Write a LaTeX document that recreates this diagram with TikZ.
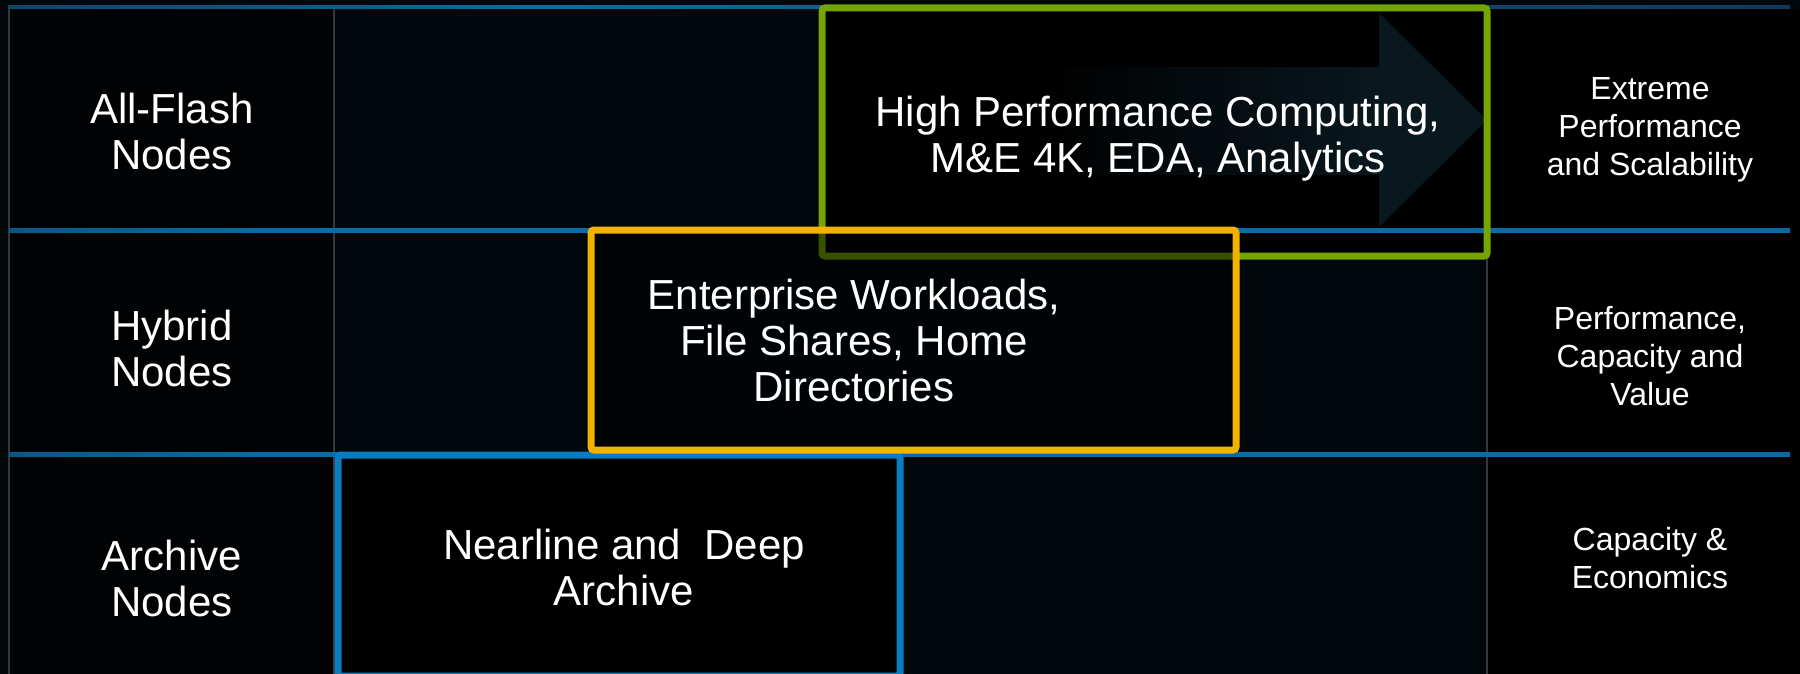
\documentclass[tikz,border=0pt]{standalone}
\usepackage{fontspec}
\setmainfont{Liberation Sans}
\definecolor{bgnavy}{HTML}{02070B}
\definecolor{colblack}{HTML}{010204}
\definecolor{rowblue}{HTML}{0A6BA6}
\definecolor{rowdark}{HTML}{03101A}
\definecolor{rowdim}{HTML}{12304A}
\definecolor{gridgray}{HTML}{33383E}
\definecolor{hpcgreen}{HTML}{74A500}
\definecolor{entyellow}{HTML}{F2B200}
\definecolor{arcblue}{HTML}{0A7DC1}
\definecolor{arrowteal}{HTML}{09171F}
\pgfdeclarehorizontalshading{rowline}{100bp}{color(0bp)=(rowdark); color(32bp)=(rowblue); color(84bp)=(rowblue); color(99bp)=(rowdark); color(100bp)=(rowdark)}
\pgfdeclarehorizontalshading{topline}{100bp}{color(0bp)=(rowdark); color(40bp)=(rowblue); color(82bp)=(rowdim); color(99bp)=(rowdark); color(100bp)=(rowdark)}
\begin{document}
\begin{tikzpicture}[x=0.5pt,y=-0.5pt,
  big/.style={text=white,font=\fontsize{21}{23}\selectfont,align=center,inner sep=0pt},
  small/.style={text=white,font=\fontsize{16}{19}\selectfont,align=center,inner sep=0pt},
  box/.style={line width=3.5pt,rounded corners=1.5pt},
  gridline/.style={draw=gridgray,line width=0.75pt},
  rowrule/.style={shading=rowline},
  toprule/.style={shading=topline}]
\useasboundingbox (0,0) rectangle (1800,674);
% background
\fill[bgnavy] (0,0) rectangle (1800,674);
\fill[colblack] (9,9) rectangle (334,674);
\fill[black] (1487,9) rectangle (1800,674);
% box fills
\fill[black] (822,8) rectangle (1487,256);
\fill[black] (338,455) rectangle (900,676);
% arrow
\shade[left color=black,right color=arrowteal] (1040,68) rectangle (1380,175);
\fill[arrowteal] (1379,68) -- (1379,13) -- (1487,120) -- (1379,227) -- (1379,175) -- cycle;
% grid
\draw[gridline] (9,5) -- (9,674);
\draw[gridline] (334,7) -- (334,674);
\draw[gridline] (1487,256) -- (1487,674);
% row rules
\shade[toprule] (9,5.5) rectangle (1790,9);
\shade[rowrule] (9,228.5) rectangle (1790,232);
\shade[rowrule] (9,452.5) rectangle (1790,456);
% boxes
\draw[box,draw=arcblue] (338,455) rectangle (900,676);
\draw[box,draw=hpcgreen] (822,8) rectangle (1487,256);
\draw[box,draw=entyellow,fill=black,fill opacity=0.5] (591,230) rectangle (1236,450);
% texts
\node[big] (allflash) at (172,131) {All-Flash\\Nodes};
\node[big] (hybrid) at (172,348) {Hybrid\\Nodes};
\node[big] (archive) at (172,578) {Archive\\Nodes};
\node[big] (hpc) at (1158,139) {High Performance Computing,\\M\&E 4K, EDA, Analytics};
\node[big] (ent) at (854,340) {Enterprise Workloads,\\File Shares, Home\hspace*{14pt}\\Directories};
\node[big] (near) at (624,567) {Nearline and\ \ Deep\\Archive};
\node[small] (extreme) at (1650,130) {Extreme\\Performance\\and Scalability};
\node[small] (perf) at (1650,356) {Performance,\\Capacity and\\Value};
\node[small] (cap) at (1650,558) {Capacity \&\\Economics};
\end{tikzpicture}
\end{document}
